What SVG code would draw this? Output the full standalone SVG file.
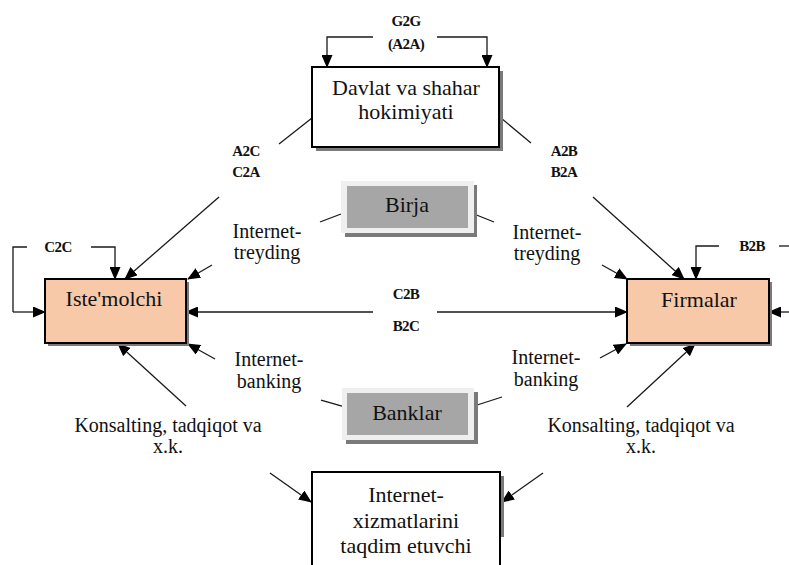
<svg xmlns="http://www.w3.org/2000/svg" width="789" height="565" viewBox="0 0 789 565" font-family="'Liberation Serif', 'DejaVu Serif', 'Times New Roman', serif">
<style>
.ln{fill:none;stroke:#1a1a1a;stroke-width:1.3}
.arr{marker-end:url(#ah)}
.t{fill:#111;text-anchor:middle}
.big{font-size:22px}
.sm{font-size:20px}
.bd{font-size:15px;font-weight:bold;letter-spacing:-0.6px}
.shadow{fill:#7a7a7a}
.box{fill:#fff;stroke:#000;stroke-width:2}
.peach{fill:#f7c9a9;stroke:#000;stroke-width:2}
.outer{fill:#efefef}
.inner{fill:#a6a6a6}
</style>
<defs>
<marker id="ah" markerUnits="userSpaceOnUse" markerWidth="13" markerHeight="11" refX="12" refY="5.5" orient="auto">
<path d="M0,0 L13,5.5 L0,11 z" fill="#000"/>
</marker>
</defs>
<rect width="789" height="565" fill="#fff"/>

<g id="connectors">
<polyline class="ln arr" points="373,37 327,37 327,67"/>
<polyline class="ln arr" points="437,37 487,37 487,67"/>
<line class="ln" x1="312" y1="118" x2="279" y2="144"/>
<line class="ln" x1="501" y1="118" x2="531" y2="143"/>
<line class="ln arr" x1="219" y1="197" x2="125" y2="279"/>
<line class="ln arr" x1="593" y1="197" x2="684" y2="279"/>
<line class="ln" x1="320" y1="222" x2="341" y2="214"/>
<line class="ln" x1="474" y1="214" x2="494" y2="222"/>
<line class="ln arr" x1="212" y1="265" x2="188" y2="279"/>
<line class="ln arr" x1="602" y1="265" x2="627" y2="279"/>
<polyline class="ln" points="27,247 13,247 13,312"/>
<polyline class="ln arr" points="13,312 45,312"/>
<polyline class="ln arr" points="91,247 115,247 115,279"/>
<polyline class="ln arr" points="719,246 696,246 696,279"/>
<line class="ln" x1="779" y1="246" x2="789" y2="246"/>
<line class="ln arr" x1="789" y1="312" x2="769" y2="312"/>
<line class="ln arr" x1="373" y1="312" x2="186" y2="312"/>
<line class="ln arr" x1="437" y1="312" x2="627" y2="312"/>
<line class="ln arr" x1="215" y1="359" x2="188" y2="344"/>
<line class="ln arr" x1="600" y1="358" x2="626" y2="344"/>
<line class="ln arr" x1="186" y1="406" x2="118" y2="344"/>
<line class="ln arr" x1="627" y1="407" x2="695" y2="344"/>
<line class="ln" x1="321" y1="400" x2="342" y2="406"/>
<line class="ln" x1="474" y1="406" x2="502" y2="397"/>
<line class="ln arr" x1="270" y1="473" x2="311" y2="502"/>
<line class="ln arr" x1="543" y1="473" x2="502" y2="502"/>
</g>

<g id="node-gov">
<rect class="shadow" x="316" y="71" width="187" height="80"/>
<rect class="box" x="312" y="67" width="187" height="80"/>
<text class="t big" x="406" y="95">Davlat va shahar</text>
<text class="t big" x="406" y="119">hokimiyati</text>
</g>

<g id="node-consumer">
<rect class="shadow" x="48" y="282" width="141" height="64"/>
<rect class="peach" x="45" y="279" width="141" height="64"/>
<text class="t big" x="114" y="306">Iste'molchi</text>
</g>

<g id="node-firms">
<rect class="shadow" x="630" y="282" width="142" height="64"/>
<rect class="peach" x="627" y="279" width="142" height="64"/>
<text class="t big" x="699" y="307">Firmalar</text>
</g>

<g id="node-birja">
<rect class="shadow" x="345" y="185" width="132" height="52"/>
<rect class="outer" x="341" y="181" width="133" height="52"/>
<rect class="inner" x="347" y="186" width="121" height="42"/>
<text class="t big" x="407" y="212">Birja</text>
</g>

<g id="node-banklar">
<rect class="shadow" x="346" y="392" width="132" height="52"/>
<rect class="outer" x="342" y="388" width="132" height="52"/>
<rect class="inner" x="347" y="393" width="121" height="42"/>
<text class="t big" x="407" y="420">Banklar</text>
</g>

<g id="node-provider">
<rect class="shadow" x="316" y="476" width="188" height="61"/>
<rect class="box" x="312" y="472" width="188" height="110"/>
<text class="t big" x="406" y="502">Internet-</text>
<text class="t big" x="406" y="528">xizmatlarini</text>
<text class="t big" x="406" y="553">taqdim etuvchi</text>
</g>

<g id="labels">
<text class="t bd" x="406" y="26">G2G</text>
<text class="t bd" x="406" y="49">(A2A)</text>
<text class="t bd" x="246" y="156">A2C</text>
<text class="t bd" x="246" y="177">C2A</text>
<text class="t bd" x="564" y="156">A2B</text>
<text class="t bd" x="564" y="177">B2A</text>
<text class="t bd" x="58" y="252">C2C</text>
<text class="t bd" x="752" y="251">B2B</text>
<text class="t bd" x="406" y="299">C2B</text>
<text class="t bd" x="406" y="331">B2C</text>
<text class="t sm" x="267" y="238">Internet-</text>
<text class="t sm" x="267" y="259">treyding</text>
<text class="t sm" x="547" y="239">Internet-</text>
<text class="t sm" x="547" y="260">treyding</text>
<text class="t sm" x="269" y="366">Internet-</text>
<text class="t sm" x="269" y="388">banking</text>
<text class="t sm" x="546" y="364">Internet-</text>
<text class="t sm" x="546" y="386">banking</text>
<text class="t sm" x="168" y="432">Konsalting, tadqiqot va</text>
<text class="t sm" x="168" y="453">x.k.</text>
<text class="t sm" x="641" y="432">Konsalting, tadqiqot va</text>
<text class="t sm" x="641" y="453">x.k.</text>
</g>
</svg>
